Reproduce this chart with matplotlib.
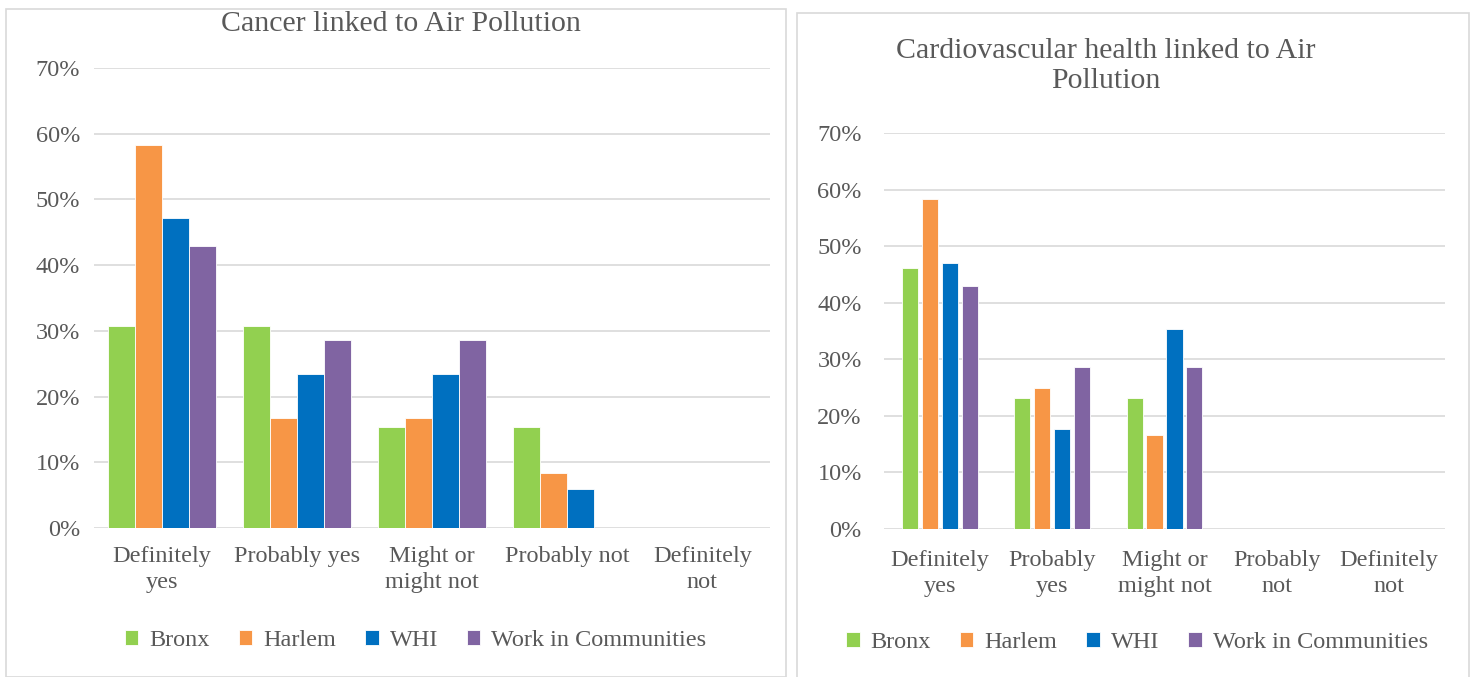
import numpy as np
import matplotlib.pyplot as plt
from matplotlib.patches import Rectangle

# Survey answers
categories = ['Definitely yes', 'Probably yes', 'Might or might not', 'Probably not', 'Definitely not']
labels_cancer = ['Definitely\nyes', 'Probably yes', 'Might or\nmight not', 'Probably not', 'Definitely\nnot']
labels_cardio = ['Definitely\nyes', 'Probably\nyes', 'Might or\nmight not', 'Probably\nnot', 'Definitely\nnot']
groups = ['Bronx', 'Harlem', 'WHI', 'Work in Communities']
colors = ['#92D050', '#F79646', '#0070C0', '#8064A2']

# Share of respondents per group
cancer = {
    'Bronx': [0.308, 0.308, 0.154, 0.154, 0.0],
    'Harlem': [0.583, 0.167, 0.167, 0.083, 0.0],
    'WHI': [0.471, 0.235, 0.235, 0.059, 0.0],
    'Work in Communities': [0.429, 0.286, 0.286, 0.0, 0.0],
}
cardio = {
    'Bronx': [0.462, 0.231, 0.231, 0.0, 0.0],
    'Harlem': [0.583, 0.250, 0.167, 0.0, 0.0],
    'WHI': [0.471, 0.176, 0.353, 0.0, 0.0],
    'Work in Communities': [0.429, 0.286, 0.286, 0.0, 0.0],
}
yticks = [0, 0.1, 0.2, 0.3, 0.4, 0.5, 0.6, 0.7]

W, H = 1475, 677
fig = plt.figure(figsize=(W / 100, H / 100), dpi=100)
plt.rcParams['font.family'] = ['Liberation Serif', 'DejaVu Serif']
text_col = '#595959'
fs = 17.5


def px_axes(x0, y0, x1, y1):
    # axes placed in pixel coordinates measured from the top-left corner
    return fig.add_axes([x0 / W, 1 - y1 / H, (x1 - x0) / W, (y1 - y0) / H])


# panel frames
fig.patches.append(Rectangle((6 / W, 0), 780 / W, 1 - 9 / H, transform=fig.transFigure,
                             fill=False, edgecolor='#D9D9D9', lw=1.2))
fig.patches.append(Rectangle((797 / W, -0.01), 672 / W, 1 - 13 / H + 0.01, transform=fig.transFigure,
                             fill=False, edgecolor='#D9D9D9', lw=1.2))


def draw(ax, data, labels, slot, width, ypad, label_pad):
    x = np.arange(len(categories))
    for i, g in enumerate(groups):
        off = (i - 1.5) * slot
        ax.bar(x + off, data[g], width, color=colors[i], edgecolor='white', linewidth=0.6,
               label=g, zorder=3)
    ax.set_xlim(-0.5, len(categories) - 0.5)
    ax.set_ylim(0, 0.7)
    ax.set_yticks(yticks)
    ax.set_yticklabels(['%d%%' % round(v * 100) for v in yticks])
    ax.set_xticks(x)
    ax.set_xticklabels(labels, linespacing=1.3)
    ax.grid(axis='y', color='#D9D9D9', lw=1.2, zorder=0)
    for s in ax.spines.values():
        s.set_visible(False)
    ax.tick_params(length=0, colors=text_col, labelsize=fs)
    ax.tick_params(axis='y', pad=ypad)
    ax.tick_params(axis='x', pad=label_pad)


def legend(ax, xc, yc):
    ax.legend(loc='center', bbox_to_anchor=(xc, yc), ncol=4, frameon=False,
              handlelength=0.55, handleheight=0.55, handletextpad=0.45, columnspacing=1.2,
              fontsize=fs, labelcolor=text_col)


ax1 = px_axes(94, 68, 770, 528)
draw(ax1, cancer, labels_cancer, 0.2, 0.2, 10, 13)
fig.text(401 / W, 1 - 24 / H, 'Cancer linked to Air Pollution', fontsize=21.5,
         color=text_col, ha='center', va='center')
legend(ax1, 0.476, -0.245)

ax2 = px_axes(884, 133, 1445, 529)
draw(ax2, cardio, labels_cardio, 0.178, 0.143, 16, 15)
fig.text(1106 / W, 1 - 66 / H, 'Cardiovascular health linked to Air\nPollution', fontsize=21.5,
         color=text_col, ha='center', va='center', linespacing=1.15)
legend(ax2, 0.451, -0.287)

fig.savefig('out.png', dpi=100)
